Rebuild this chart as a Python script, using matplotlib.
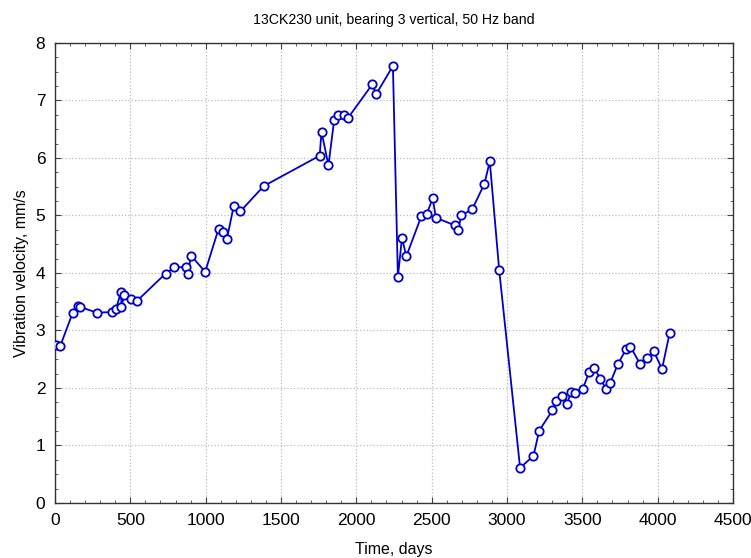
import matplotlib
matplotlib.use("Agg")
import matplotlib.pyplot as plt
from matplotlib.ticker import MultipleLocator

plt.rcParams['font.family'] = ['Liberation Sans', 'DejaVu Sans']

days = [5, 35, 118, 150, 166, 277, 377, 405, 439, 441, 459, 503, 543,
        734, 791, 869, 880, 904, 997, 1086, 1115, 1141, 1186, 1230, 1385,
        1757, 1769, 1815, 1853, 1877, 1917, 1946, 2106, 2132, 2243,
        2276, 2303, 2332, 2432, 2467, 2507, 2528, 2653, 2675, 2697, 2770,
        2850, 2886, 2948, 3087, 3176, 3214, 3302, 3327, 3362, 3398, 3426,
        3451, 3504, 3546, 3579, 3619, 3657, 3684, 3735, 3792, 3819, 3883,
        3930, 3974, 4029, 4080]
velocity = [2.75, 2.73, 3.31, 3.43, 3.41, 3.31, 3.32, 3.38, 3.67, 3.40, 3.62, 3.55, 3.51,
            3.99, 4.10, 4.10, 3.98, 4.30, 4.02, 4.77, 4.72, 4.59, 5.16, 5.07, 5.51,
            6.04, 6.46, 5.87, 6.66, 6.75, 6.75, 6.70, 7.28, 7.11, 7.60,
            3.93, 4.61, 4.29, 4.99, 5.02, 5.30, 4.96, 4.83, 4.74, 5.00, 5.11,
            5.55, 5.94, 4.06, 0.61, 0.82, 1.26, 1.61, 1.78, 1.86, 1.72, 1.93,
            1.91, 1.99, 2.28, 2.35, 2.16, 1.99, 2.08, 2.41, 2.68, 2.72, 2.42,
            2.52, 2.64, 2.33, 2.96]

title = "13CK230 unit, bearing 3 vertical, 50 Hz band"
xlabel = "Time, days"
ylabel = "Vibration velocity, mm/s"

fig = plt.figure(figsize=(7.51, 5.58), dpi=100)
ax = fig.add_axes([0.0732, 0.0986, 0.9028, 0.8244])
ax.plot(days, velocity, color='#0000c8', lw=1.3, marker='o', ms=6,
        mfc='white', mec='#0000c8', mew=1.3, zorder=3)

ax.set_xlim(0, 4500)
ax.set_ylim(0, 8)
ax.xaxis.set_major_locator(MultipleLocator(500))
ax.xaxis.set_minor_locator(MultipleLocator(100))
ax.yaxis.set_major_locator(MultipleLocator(1))
ax.yaxis.set_minor_locator(MultipleLocator(0.25))
ax.tick_params(which='both', direction='in', top=True, right=True,
               color='#444444', labelsize=12.5)
ax.tick_params(which='major', length=4, pad=7)
ax.tick_params(which='minor', length=2.5)
ax.grid(True, which='major', linestyle=':', color='#bbbbbb', lw=0.9)
for s in ax.spines.values():
    s.set_color('#333333')
    s.set_linewidth(1.0)

ax.set_title(title, fontsize=10.2, pad=14)
ax.set_xlabel(xlabel, fontsize=11.5, labelpad=10)
ax.set_ylabel(ylabel, fontsize=11.5, labelpad=5)

fig.savefig("out.png", dpi=100)
